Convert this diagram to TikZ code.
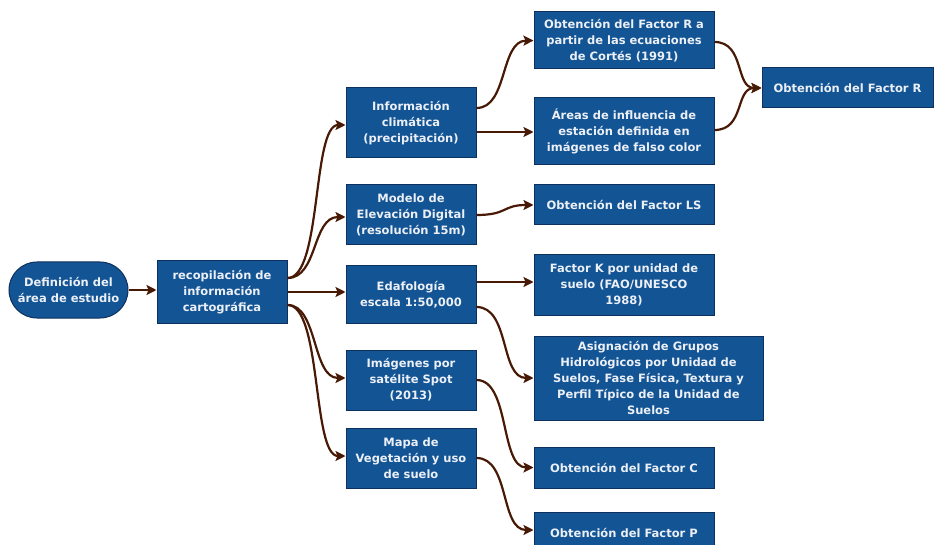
\documentclass[tikz,border=0pt]{standalone}
\usepackage{fontspec}
\setmainfont{DejaVu Sans}
\usetikzlibrary{arrows.meta,shapes.misc}
\definecolor{boxfill}{RGB}{18,84,148}
\definecolor{boxline}{RGB}{14,48,92}
\definecolor{boxtext}{RGB}{236,240,246}
\definecolor{conn}{RGB}{72,26,6}
\tikzset{
  box/.style={draw=boxline, line width=1pt, fill=boxfill, text=boxtext,
    font=\fontsize{11.5}{16}\selectfont\bfseries, align=center, inner sep=0pt},
  stadium/.style={box, rounded rectangle},
  link/.style={draw=conn, line width=2.2pt, -{Stealth[length=10pt,width=10pt,inset=2pt]}}
}
\begin{document}
\begin{tikzpicture}[x=1pt,y=-1pt]
\useasboundingbox (0,0) rectangle (934,545);
\node[stadium, minimum width=119pt, minimum height=56pt] (def) at (68.5,290) {Definición del\\área de estudio};
\node[box, minimum width=130pt, minimum height=62pt] (recop) at (222,292) {recopilación de\\información\\cartográfica};
\node[box, minimum width=130pt, minimum height=70pt] (info) at (411,123) {Información\\climática\\(precipitación)};
\node[box, minimum width=130pt, minimum height=60pt] (modelo) at (411,215) {Modelo de\\Elevación Digital\\(resolución 15m)};
\node[box, minimum width=130pt, minimum height=57pt] (edaf) at (411,294.5) {Edafología\\escala 1:50,000};
\node[box, minimum width=130pt, minimum height=60pt] (imag) at (411,380) {Imágenes por\\satélite Spot\\(2013)};
\node[box, minimum width=130pt, minimum height=60pt] (mapa) at (411,458) {Mapa de\\Vegetación y uso\\de suelo};
\node[box, minimum width=180pt, minimum height=57pt] (r1) at (624,40.5) {Obtención del Factor R a\\partir de las ecuaciones\\de Cortés (1991)};
\node[box, minimum width=180pt, minimum height=67pt] (areas) at (624,131.5) {Áreas de influencia de\\estación definida en\\imágenes de falso color};
\node[box, minimum width=171pt, minimum height=40pt] (fr) at (847.5,88) {Obtención del Factor R};
\node[box, minimum width=180pt, minimum height=40pt] (ls) at (624,205) {Obtención del Factor LS};
\node[box, minimum width=180pt, minimum height=60pt] (fk) at (624,285) {Factor K por unidad de\\suelo (FAO/UNESCO\\1988)};
\node[box, minimum width=229pt, minimum height=84pt] (asig) at (648.5,378) {Asignación de Grupos\\Hidrológicos por Unidad de\\Suelos, Fase Física, Textura y\\Perfil Típico de la Unidad de\\Suelos};
\node[box, minimum width=180pt, minimum height=41pt] (fc) at (624,467.5) {Obtención del Factor C};
\node[box, minimum width=180pt, minimum height=41pt] (fp) at (624,533) {Obtención del Factor P};

\draw[link] (def.east) -- (def.east -| recop.west);
\draw[link] ([yshift=14pt]recop.east) .. controls (322,278) and (312,125) .. ([yshift=-2pt]info.west);
\draw[link] ([yshift=14pt]recop.east) .. controls (318,278) and (312,217) .. ([yshift=-2pt]modelo.west);
\draw[link] (recop.east) -- (recop.east -| edaf.west);
\draw[link] ([yshift=-13pt]recop.east) .. controls (318,305) and (312,378) .. ([yshift=2pt]imag.west);
\draw[link] ([yshift=-13pt]recop.east) .. controls (322,305) and (312,456) .. ([yshift=2pt]mapa.west);
\draw[link] ([yshift=15pt]info.east) .. controls (508,108) and (500,41) .. (r1.west);
\draw[link] ([yshift=-9pt]info.east) -- ([yshift=-9pt]info.east -| areas.west);
\draw[link] (modelo.east) .. controls (508,215) and (502,205) .. (ls.west);
\draw[link] ([yshift=-1.5pt]r1.east) .. controls (745,42) and (735,88) .. (fr.west);
\draw[link] ([yshift=1.5pt]areas.east) .. controls (745,130) and (735,88) .. (fr.west);
\draw[link] ([yshift=12.5pt]edaf.east) -- ([yshift=12.5pt]edaf.east -| fk.west);
\draw[link] ([yshift=-12.5pt]edaf.east) .. controls (510,307) and (500,378) .. (asig.west);
\draw[link] (imag.east) .. controls (510,380) and (500,467.5) .. (fc.west);
\draw[link] (mapa.east) .. controls (510,458) and (500,530) .. ([yshift=3pt]fp.west);
\end{tikzpicture}
\end{document}
